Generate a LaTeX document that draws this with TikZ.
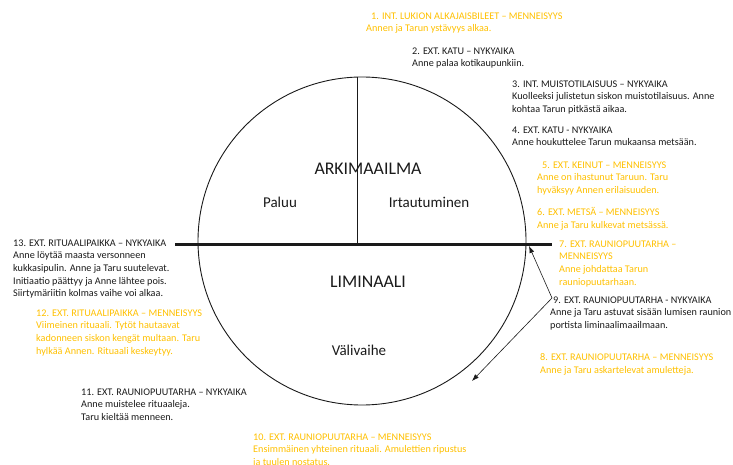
\documentclass[tikz,border=0pt]{standalone}
\usepackage{fontspec}
\setmainfont{Carlito}
\usetikzlibrary{arrows.meta, positioning}
\definecolor{PastGold}{HTML}{FFC000}
\definecolor{DarkText}{HTML}{1A1A1A}

\tikzset{
  scene/.style={anchor=north west, align=left, inner sep=0pt,
                font=\fontsize{10.2}{12.6}\selectfont, text=DarkText},
  pastscene/.style={scene, text=PastGold},
  worldlabel/.style={font=\fontsize{17.8}{20}\selectfont, text=DarkText},
  phaselabel/.style={font=\fontsize{15}{18}\selectfont, text=DarkText},
  pointer/.style={draw=DarkText, line width=0.6pt, -{Latex[length=7pt,width=5pt]}}
}

\begin{document}
\begin{tikzpicture}[x=1pt, y=-1pt]
  \useasboundingbox (0,0) rectangle (733,465);

  % the circle of the rite of passage
  \node[draw=DarkText, circle, line width=0.9pt, minimum size=328pt, inner sep=0pt]
    (kiertokulku) at (362,241) {};
  \draw[DarkText, line width=0.9pt] (357,77) -- (357,244);
  \draw[DarkText, line width=3pt] (175,244) -- (552,244);

  % worlds and phases
  \node[worldlabel] (arki) at (368,169) {ARKIMAAILMA};
  \node[phaselabel] (paluu) at (280,202) {Paluu};
  \node[phaselabel] (irtautuminen) at (429,202) {Irtautuminen};
  \node[worldlabel] (liminaali) at (368,282) {LIMINAALI};
  \node[phaselabel] (valivaihe) at (359,350) {Välivaihe};

  % scenes
  \node[pastscene] (kohtaus1) at (366,12.5) {\hspace*{5pt}1. INT. LUKION ALKAJAISBILEET – MENNEISYYS\\
    Annen ja Tarun ystävyys alkaa.};
  \node[scene] (kohtaus2) at (412,47.5) {2. EXT. KATU – NYKYAIKA\\
    Anne palaa kotikaupunkiin.};
  \node[scene] (kohtaus3) at (512,80.5) {3. INT. MUISTOTILAISUUS – NYKYAIKA\\
    Kuolleeksi julistetun siskon muistotilaisuus. Anne\\
    kohtaa Tarun pitkästä aikaa.};
  \node[scene] (kohtaus4) at (512,126.5) {4. EXT. KATU - NYKYAIKA\\
    Anne houkuttelee Tarun mukaansa metsään.};
  \node[pastscene] (kohtaus5) at (537,161.5) {\hspace*{5pt}5. EXT. KEINUT – MENNEISYYS\\
    Anne on ihastunut Taruun. Taru\\
    hyväksyy Annen erilaisuuden.};
  \node[pastscene] (kohtaus6) at (537,207.5) {6. EXT. METSÄ – MENNEISYYS\\
    Anne ja Taru kulkevat metsässä.};
  \node[pastscene] (kohtaus7) at (559,240.5) {7. EXT. RAUNIOPUUTARHA –\\
    MENNEISYYS\\
    Anne johdattaa Tarun\\
    rauniopuutarhaan.};
  \node[scene] (kohtaus9) at (550,296.5) {\hspace*{3pt}9. EXT. RAUNIOPUUTARHA - NYKYAIKA\\
    Anne ja Taru astuvat sisään lumisen raunion\\
    portista liminaalimaailmaan.};
  \node[pastscene] (kohtaus8) at (540,353.5) {8. EXT. RAUNIOPUUTARHA – MENNEISYYS\\
    Anne ja Taru askartelevat amuletteja.};
  \node[pastscene] (kohtaus10) at (253,433.5) {10. EXT. RAUNIOPUUTARHA – MENNEISYYS\\
    Ensimmäinen yhteinen rituaali. Amulettien ripustus\\
    ja tuulen nostatus.};
  \node[scene] (kohtaus11) at (81,388.5) {11. EXT. RAUNIOPUUTARHA – NYKYAIKA\\
    Anne muistelee rituaaleja.\\
    Taru kieltää menneen.};
  \node[pastscene] (kohtaus12) at (36,309.5) {12. EXT. RITUAALIPAIKKA – MENNEISYYS\\
    Viimeinen rituaali. Tytöt hautaavat\\
    kadonneen siskon kengät multaan. Taru\\
    hylkää Annen. Rituaali keskeytyy.};
  \node[scene] (kohtaus13) at (13,239.5) {13. EXT. RITUAALIPAIKKA – NYKYAIKA\\
    Anne löytää maasta versonneen\\
    kukkasipulin. Anne ja Taru suutelevat.\\
    Initiaatio päättyy ja Anne lähtee pois.\\
    Siirtymäriitin kolmas vaihe voi alkaa.};

  % crossing into the liminal world
  \coordinate (haara) at (552,298);
  \coordinate (portti) at (529,246);
  \coordinate (syvyys) at (472,381);
  \draw[pointer] (haara) -- (portti);
  \draw[pointer] (haara) -- (syvyys);
\end{tikzpicture}
\end{document}
